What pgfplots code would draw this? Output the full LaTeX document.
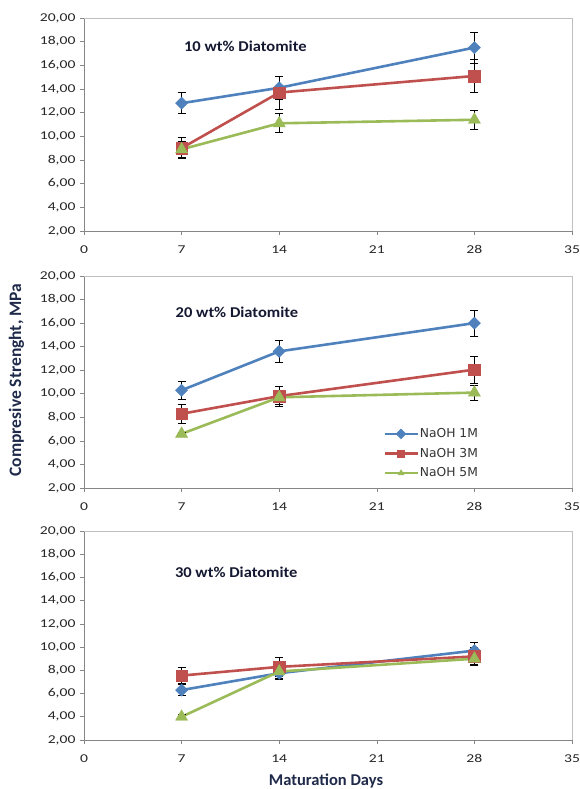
\documentclass[border=0pt]{standalone}
\usepackage{pgfplots}
\pgfplotsset{compat=1.18}
\usepackage{fontspec}
\setmainfont{Carlito}
\newfontfamily\legfont{DejaVu Sans}
\definecolor{s1}{HTML}{4F81BD}
\definecolor{s2}{HTML}{C0504D}
\definecolor{s3}{HTML}{9BBB59}
\definecolor{navy}{HTML}{1F2A4A}
\definecolor{titlec}{HTML}{141830}
\definecolor{axgray}{HTML}{868686}
\definecolor{framegray}{HTML}{BFBFBF}

\tikzset{ptitle/.style={anchor=west, font=\bfseries\fontsize{15}{17}\selectfont, text=titlec, xscale=1.1}}

\pgfplotsset{
  panel/.style={
    scale only axis, width=488pt, height=212pt,
    xmin=0, xmax=35, ymin=2, ymax=20,
    xtick={0,7,14,21,28,35}, ytick={2,4,...,20},
    axis lines=left, axis line style={-, draw=axgray, line width=0.6pt},
    tick align=outside, major tick length=4pt,
    tick style={draw=axgray, line width=0.6pt},
    tick label style={font=\fontsize{12}{14}\selectfont, text=black!85, xscale=1.3},
    /pgf/number format/assume math mode=true,
    yticklabel style={/pgf/number format/.cd, fixed, fixed zerofill, precision=2, use comma},
    xticklabel style={yshift=-7pt, /pgf/number format/.cd, fixed, precision=0},
    scaled y ticks=false,
    clip=false,
    after end axis/.code={
      \draw[framegray, line width=0.6pt] (rel axis cs:0,1) -- (rel axis cs:1,1) -- (rel axis cs:1,0);
    },
    every axis plot/.append style={line width=2.6pt,
      error bars/y dir=both, error bars/y explicit,
      error bars/error bar style={black, line width=0.8pt},
      error bars/error mark options={black, line width=0.8pt, mark size=4pt, rotate=90}},
  },
  ser1/.style={color=s1, mark=square*, mark size=4.3pt, mark options={fill=s1, draw=s1, line width=0.4pt, rotate=45}},
  ser2/.style={color=s2, mark=square*, mark size=5.8pt, mark options={fill=s2, draw=s2, line width=0.4pt}},
  ser3/.style={color=s3, mark=triangle*, mark size=7pt, mark options={fill=s3, draw=s3, line width=0.4pt}},
}

\begin{document}
\begin{tikzpicture}[x=1pt,y=1pt]
\useasboundingbox (0,0) rectangle (579,789);

% Panel 1: 10 wt%
\begin{axis}[panel, at={(84pt,558pt)}, anchor=south west, height=213pt]
\addplot+[ser1] coordinates {(7,12.8) +- (0,0.9) (14,14.1) +- (0,0.95) (28,17.5) +- (0,1.3)};
\addplot+[ser2] coordinates {(7,9.0) +- (0,0.9) (14,13.7) +- (0,1.4) (28,15.1) +- (0,1.4)};
\addplot+[ser3] coordinates {(7,8.9) +- (0,0.7) (14,11.1) +- (0,0.8) (28,11.4) +- (0,0.8)};
\node[ptitle] at (axis cs:6.9,17.6) {10 wt\% Diatomite};
\end{axis}

% Panel 2: 20 wt%
\begin{axis}[panel, at={(84pt,301pt)}, anchor=south west,
  legend style={draw=none, fill=none, at={(axis cs:21.45,7.15)}, anchor=north west, inner sep=0pt,
    font=\legfont\fontsize{12.3}{14}\selectfont, text=black!80, row sep=7pt,
    nodes={inner sep=1pt},
    /tikz/every even column/.append style={column sep=0pt}},
  legend cell align=left,
  legend image code/.code={
    \draw[#1, mark=none] (0pt,0pt) -- (33pt,0pt);
    \draw[#1, mark size=3.5pt, line width=0.3pt] plot coordinates {(16.5pt,0pt)};
  }]
\addplot+[ser1] coordinates {(7,10.3) +- (0,0.75) (14,13.6) +- (0,0.95) (28,16.0) +- (0,1.1)};
\addlegendentry{NaOH 1M}
\addplot+[ser2] coordinates {(7,8.3) +- (0,0.8) (14,9.8) +- (0,0.85) (28,12.05) +- (0,1.15)};
\addlegendentry{NaOH 3M}
\addplot+[ser3] coordinates {(7,6.6) +- (0,0.15) (14,9.7) +- (0,0.6) (28,10.1) +- (0,0.65)};
\addlegendentry{NaOH 5M}
\node[ptitle] at (axis cs:6.3,16.9) {20 wt\% Diatomite};
\end{axis}

% Panel 3: 30 wt%
\begin{axis}[panel, at={(84pt,49pt)}, anchor=south west, height=209pt]
\addplot+[ser1] coordinates {(7,6.3) +- (0,0.5) (14,7.75) +- (0,0.55) (28,9.7) +- (0,0.7)};
\addplot+[ser2] coordinates {(7,7.55) +- (0,0.7) (14,8.3) +- (0,0.85) (28,9.2) +- (0,0.75)};
\addplot+[ser3] coordinates {(7,4.0) +- (0,0.2) (14,7.9) +- (0,0.6) (28,9.0) +- (0,0.5)};
\node[ptitle] at (axis cs:6.25,16.4) {30 wt\% Diatomite};
\end{axis}

\node[font=\bfseries\fontsize{16.5}{18}\selectfont, text=navy] at (326,8) {Maturation Days};
\node[rotate=90, font=\bfseries\fontsize{17.5}{19}\selectfont, text=navy] at (16.5,409) {Compresive Strenght, MPa};
\end{tikzpicture}
\end{document}
